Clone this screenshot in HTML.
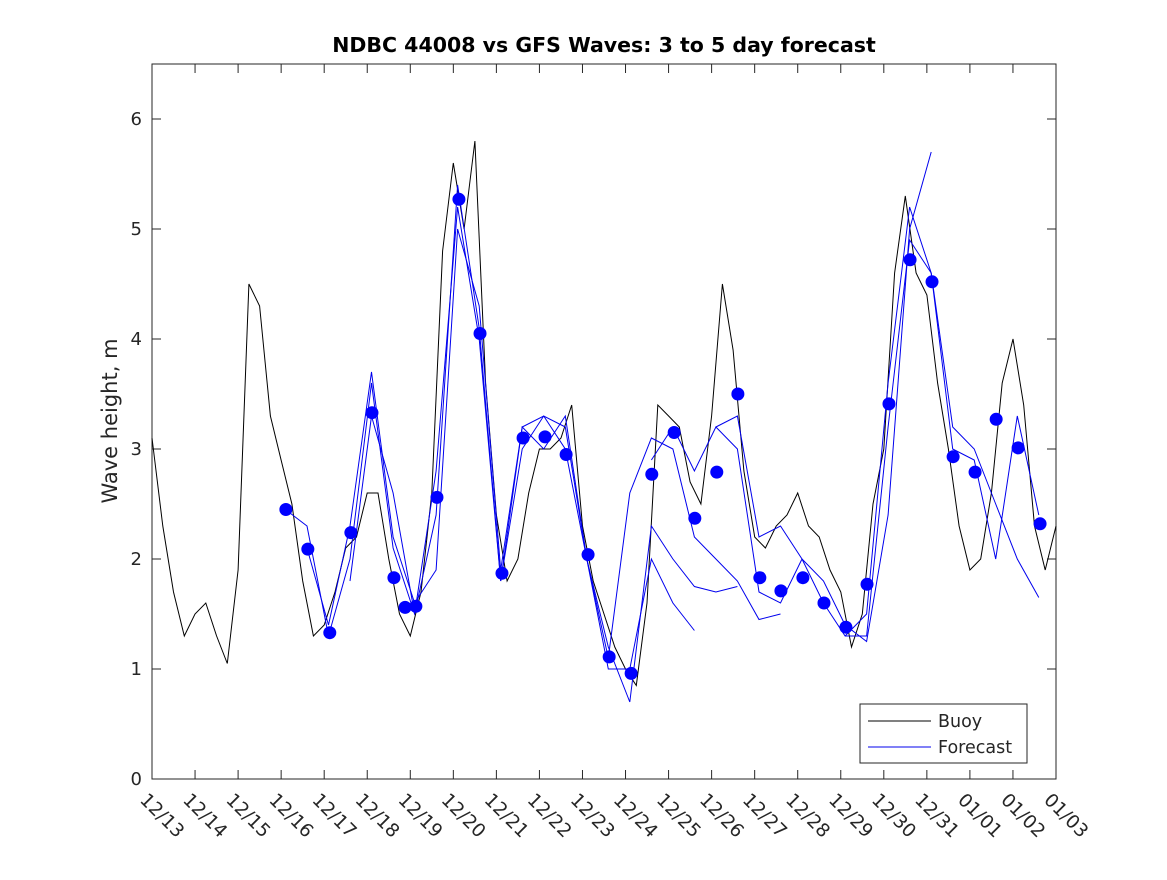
<!DOCTYPE html>
<html><head><meta charset="utf-8"><style>
body{margin:0;background:#fff;}
svg text{font-family:"DejaVu Sans","Liberation Sans",sans-serif;fill:#262626;}
</style></head><body>
<svg id="chart" width="1167" height="875" xmlns="http://www.w3.org/2000/svg">
<rect width="1167" height="875" fill="#fff"/>
<text x="604" y="52" text-anchor="middle" font-size="20.5" font-weight="bold" style="fill:#000">NDBC 44008 vs GFS Waves: 3 to 5 day forecast</text>
<text transform="translate(117,421) rotate(-90)" text-anchor="middle" font-size="21">Wave height, m</text>
<g id="grid"></g>
<g id="plot"></g>
<g>
<rect x="860" y="704" width="167" height="59" fill="#fff" stroke="#262626" stroke-width="1"/>
<line x1="868" y1="721" x2="931" y2="721" stroke="#000" stroke-width="1"/>
<text x="938" y="727" font-size="17.5">Buoy</text>
<line x1="868" y1="747" x2="931" y2="747" stroke="#0000ee" stroke-width="1"/>
<text x="938" y="753" font-size="17.5">Forecast</text>
</g>
</svg>
<script>
const xTickLabels=["12/13","12/14","12/15","12/16","12/17","12/18","12/19","12/20","12/21","12/22","12/23","12/24","12/25","12/26","12/27","12/28","12/29","12/30","12/31","01/01","01/02","01/03"];
const yTicks=[0,1,2,3,4,5,6];
const buoyStep=0.25;
const buoy=[3.1,2.3,1.7,1.3,1.5,1.6,1.3,1.05,1.9,4.5,4.3,3.3,2.9,2.5,1.8,1.3,1.4,1.7,2.1,2.2,2.6,2.6,2.0,1.5,1.3,1.7,2.6,4.8,5.6,5.0,5.8,3.6,2.4,1.8,2.0,2.6,3.0,3.0,3.1,3.4,2.3,1.8,1.5,1.2,1.0,0.85,1.6,3.4,3.3,3.2,2.7,2.5,3.3,4.5,3.9,2.8,2.2,2.1,2.3,2.4,2.6,2.3,2.2,1.9,1.7,1.2,1.5,2.5,3.0,4.6,5.3,4.6,4.4,3.6,3.0,2.3,1.9,2.0,2.6,3.6,4.0,3.4,2.3,1.9,2.3];
const dotDays=[3.11,3.62,4.13,4.62,5.11,5.62,5.88,6.13,6.62,7.13,7.62,8.13,8.62,9.13,9.62,10.13,10.62,11.13,11.61,12.13,12.61,13.12,13.61,14.12,14.61,15.12,15.61,16.12,16.61,17.12,17.61,18.12,18.61,19.12,19.61,20.12,20.63];
const dotVals=[2.45,2.09,1.33,2.24,3.33,1.83,1.56,1.57,2.56,5.27,4.05,1.87,3.10,3.11,2.95,2.04,1.11,0.96,2.77,3.15,2.37,2.79,3.50,1.83,1.71,1.83,1.60,1.38,1.77,3.41,4.72,4.52,2.93,2.79,3.27,3.01,2.32];
const fcStarts=[3.1,3.6,4.6,11.6,13.1,16.1];
const fc1=[2.45,2.3,1.3,2.0,3.6,2.1,1.5,2.4,5.4,4.1,1.8,3.0,3.3,3.2,2.0,1.0,1.0,2.0,1.6,1.35];
const fc2=[2.1,1.4,2.3,3.7,2.2,1.6,1.9,5.0,4.3,1.9,3.2,3.3,3.0,2.0,1.2,0.7,2.3,2.0,1.75,1.7,1.75];
const fc3=[1.8,3.3,2.6,1.5,2.8,5.2,4.0,1.8,3.2,3.0,3.3,2.0,1.1,2.6,3.1,3.0,2.2,2.0,1.8,1.45,1.5];
const fc4=[2.9,3.2,2.8,3.2,3.0,1.7,1.6,2.0,1.8,1.4,1.25,2.4,5.0,5.7];
const fc5=[3.2,3.3,2.2,2.3,2.0,1.6,1.3,1.5,3.6,5.2,4.6,3.2,3.0,2.5,2.0,1.65];
const fc6=[1.3,1.3,3.2,4.9,4.6,3.0,2.9,2.0,3.3,2.4];
const forecasts=[fc1,fc2,fc3,fc4,fc5,fc6];

const X0=152,X1=1056,Y0=779,Y1=64,XMAX=21,YMAX=6.5;
const sx=d=>X0+(X1-X0)*d/XMAX;
const sy=v=>Y0-(Y0-Y1)*v/YMAX;
const NS="http://www.w3.org/2000/svg";
const plot=document.getElementById('plot'),grid=document.getElementById('grid');
function mk(t,a,p){const e=document.createElementNS(NS,t);for(const k in a)e.setAttribute(k,a[k]);p.appendChild(e);return e;}

const frame=mk('rect',{x:X0,y:Y1,width:X1-X0,height:Y0-Y1,fill:'#fff',stroke:'#262626','stroke-width':1},grid);


xTickLabels.forEach((lab,i)=>{
  const x=sx(i);
  mk('line',{x1:x,y1:Y0,x2:x,y2:Y0-9,stroke:'#262626'},grid);
  mk('line',{x1:x,y1:Y1,x2:x,y2:Y1+9,stroke:'#262626'},grid);
  const t=mk('text',{transform:`translate(${x-13},${Y0+22}) rotate(45)`,'font-size':18.5},grid);
  t.textContent=lab;
  
  
});
yTicks.forEach(v=>{
  const y=sy(v);
  mk('line',{x1:X0,y1:y,x2:X0+9,y2:y,stroke:'#262626'},grid);
  mk('line',{x1:X1,y1:y,x2:X1-9,y2:y,stroke:'#262626'},grid);
  const t=mk('text',{x:X0-10,y:y+6,'text-anchor':'end','font-size':18},grid);
  t.textContent=v;
  
  
});
const bpts=buoy.map((v,i)=>sx(i*buoyStep).toFixed(1)+','+sy(v).toFixed(1)).join(' ');
const bl=mk('polyline',{points:bpts,fill:'none',stroke:'#000','stroke-width':1},plot);


forecasts.forEach((arr,k)=>{
  const pts=arr.map((v,i)=>sx(fcStarts[k]+i*0.5).toFixed(1)+','+sy(v).toFixed(1)).join(' ');
  const pl=mk('polyline',{points:pts,fill:'none',stroke:'#0000ee','stroke-width':1},plot);
  
  
});
dotDays.forEach((dd,i)=>{
  const c=mk('circle',{cx:sx(dd),cy:sy(dotVals[i]),r:6.5,fill:'#0000ff'},plot);
  
  
});
</script>
</body></html>
